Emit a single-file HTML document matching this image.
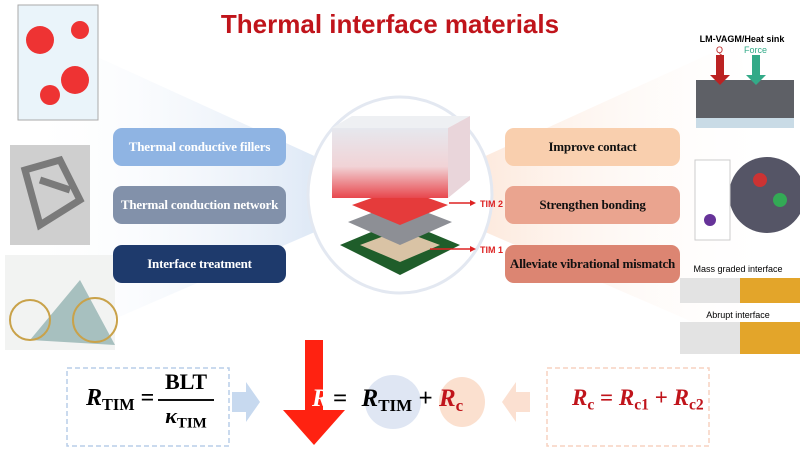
<!DOCTYPE html>
<html><head><style>
body{margin:0;width:800px;height:450px;overflow:hidden;background:#fff;font-family:"Liberation Serif",serif;position:relative}
.a{position:absolute}
.box{position:absolute;border-radius:9px;color:#fff;font-weight:bold;font-size:13px;display:flex;align-items:center;justify-content:center;text-align:center;white-space:nowrap;letter-spacing:-0.2px}
.rb{color:#111}
sub{font-size:0.68em;vertical-align:-0.3em;font-style:normal}
</style></head><body>
<svg class="a" style="left:0;top:0" width="800" height="450">
<defs>
<linearGradient id="bl" x1="1" y1="0" x2="0" y2="0"><stop offset="0" stop-color="#c9daf0"/><stop offset="1" stop-color="#fff" stop-opacity="0"/></linearGradient>
<linearGradient id="pk" x1="0" y1="0" x2="1" y2="0"><stop offset="0" stop-color="#fbdcc8"/><stop offset="1" stop-color="#fff" stop-opacity="0"/></linearGradient>
<linearGradient id="hs" x1="0" y1="0" x2="0" y2="1"><stop offset="0" stop-color="#e6e8ee"/><stop offset="0.55" stop-color="#f1d3d6"/><stop offset="1" stop-color="#e8474d"/></linearGradient>
</defs>
<polygon points="400,195 60,40 20,360 400,195" fill="url(#bl)"/>
<polygon points="400,195 740,40 780,360 400,195" fill="url(#pk)"/>
<ellipse cx="400" cy="195" rx="92" ry="98" fill="#fff" stroke="#e3e8f1" stroke-width="3"/>
<polygon points="340,245 400,220 460,245 400,275" fill="#1f5d2a"/>
<polygon points="360,245 400,230 440,245 400,262" fill="#d9c3a5"/>
<polygon points="348,222 400,202 452,222 400,245" fill="#8d8f95"/>
<polygon points="352,205 400,188 448,205 400,225" fill="#e53b3b"/>
<rect x="332" y="128" width="116" height="70" fill="url(#hs)"/>
<polygon points="332,128 352,116 470,116 448,128" fill="#eef0f3"/>
<polygon points="448,128 470,116 470,180 448,198" fill="#e9d5da"/>
<line x1="449" y1="203" x2="470" y2="203" stroke="#d22" stroke-width="1.5"/>
<polygon points="470,200 476,203 470,206" fill="#d22"/>
<text x="480" y="207" font-family="Liberation Sans" font-size="9" font-weight="bold" fill="#d22">TIM 2</text>
<line x1="430" y1="249" x2="470" y2="249" stroke="#d22" stroke-width="1.5"/>
<polygon points="470,246 476,249 470,252" fill="#d22"/>
<text x="480" y="253" font-family="Liberation Sans" font-size="9" font-weight="bold" fill="#d22">TIM 1</text>
<rect x="18" y="5" width="80" height="115" fill="#eaf4fa" stroke="#aaa"/>
<circle cx="40" cy="40" r="14" fill="#e33"/><circle cx="75" cy="80" r="14" fill="#e33"/><circle cx="50" cy="95" r="10" fill="#e33"/><circle cx="80" cy="30" r="9" fill="#e33"/>
<rect x="10" y="145" width="80" height="100" fill="#cfcfcf"/>
<path d="M25 170 L60 160 L80 200 L40 225 Z M40 180 L70 190" stroke="#7a7a7a" stroke-width="7" fill="none"/>
<rect x="5" y="255" width="110" height="95" fill="#f2f3f2"/>
<polygon points="30,340 80,280 115,345" fill="#8aa" opacity=".7"/>
<circle cx="30" cy="320" r="20" fill="none" stroke="#c9a24a" stroke-width="2"/>
<circle cx="95" cy="320" r="22" fill="none" stroke="#c9a24a" stroke-width="2"/>
<rect x="696" y="80" width="98" height="45" fill="#5e6066"/>
<rect x="696" y="118" width="98" height="10" fill="#c9dbe6"/>
<rect x="716" y="55" width="8" height="20" fill="#b22"/><polygon points="710,75 730,75 720,85" fill="#b22"/>
<rect x="752" y="55" width="8" height="20" fill="#3a8"/><polygon points="746,75 766,75 756,85" fill="#3a8"/>
<text x="742" y="42" text-anchor="middle" font-family="Liberation Sans" font-size="9" font-weight="bold">LM-VAGM/Heat sink</text>
<text x="716" y="53" font-family="Liberation Sans" font-size="9" fill="#b22">Q</text>
<text x="744" y="53" font-family="Liberation Sans" font-size="9" fill="#3a8">Force</text>
<circle cx="767" cy="195" r="38" fill="#556"/>
<circle cx="760" cy="180" r="7" fill="#c33"/><circle cx="780" cy="200" r="7" fill="#3a5"/>
<rect x="695" y="160" width="35" height="80" fill="#fff" stroke="#ccc"/>
<circle cx="710" cy="220" r="6" fill="#639"/>
<text x="738" y="272" text-anchor="middle" font-family="Liberation Sans" font-size="9">Mass graded interface</text>
<rect x="680" y="278" width="120" height="25" fill="#e3e3e3"/><rect x="740" y="278" width="60" height="25" fill="#e3a52a"/>
<text x="738" y="318" text-anchor="middle" font-family="Liberation Sans" font-size="9">Abrupt interface</text>
<rect x="680" y="322" width="120" height="32" fill="#e3e3e3"/><rect x="740" y="322" width="60" height="32" fill="#e3a52a"/>
<rect x="67" y="368" width="162" height="78" fill="#fff" stroke="#b8cde9" stroke-dasharray="5,3" stroke-width="1.5"/>
<rect x="547" y="368" width="162" height="78" fill="#fff" stroke="#f7d2c0" stroke-dasharray="5,3" stroke-width="1.5"/>
<polygon points="232,392 246,392 246,382 260,402 246,422 246,412 232,412" fill="#c7d9ef"/>
<polygon points="530,392 516,392 516,382 502,402 516,422 516,412 530,412" fill="#fbe0d1"/>
<ellipse cx="393" cy="402" rx="28" ry="27" fill="#dfe6f3"/>
<ellipse cx="462" cy="402" rx="23" ry="25" fill="#fbe0cf"/>
<polygon points="305,340 323,340 323,410 345,410 314,445 283,410 305,410" fill="#f21"/>
</svg>
<div class="a" style="left:0;width:780px;top:9px;text-align:center;font-family:'Liberation Sans',sans-serif;font-weight:bold;font-size:26px;color:#c0141b">Thermal interface materials</div>
<div class="box" style="left:113px;top:128px;width:173px;height:38px;background:#8fb4e3">Thermal conductive fillers</div>
<div class="box" style="left:113px;top:186px;width:173px;height:38px;background:#8291aa">Thermal conduction network</div>
<div class="box" style="left:113px;top:245px;width:173px;height:38px;background:#1e3a6c">Interface treatment</div>
<div class="box rb" style="left:505px;top:128px;width:175px;height:38px;background:#f9cfae">Improve contact</div>
<div class="box rb" style="left:505px;top:186px;width:175px;height:38px;background:#eaa48f">Strengthen bonding</div>
<div class="box rb" style="left:505px;top:245px;width:175px;height:38px;background:#dc8572">Alleviate vibrational mismatch</div>
<div class="a" style="left:86px;top:385px;font-size:24px;font-weight:bold"><i>R</i><sub>TIM</sub> =</div>
<div class="a" style="left:158px;top:368px;width:56px;text-align:center;font-size:22px;font-weight:bold;line-height:28px">BLT<div style="border-top:2px solid #111;margin:3px 0 1px"></div><i>κ</i><sub>TIM</sub></div>
<div class="a" style="left:312px;top:385px;font-size:25px;font-weight:bold;color:#fff"><i>R</i></div>
<div class="a" style="left:333px;top:385px;font-size:25px;font-weight:bold">= <span style="margin-left:8px"><i>R</i><sub>TIM</sub></span> + <span style="color:#c0141b"><i>R</i><sub>c</sub></span></div>
<div class="a" style="left:572px;top:385px;font-size:23px;font-weight:bold;color:#c0141b"><i>R</i><sub>c</sub> = <i>R</i><sub>c1</sub> + <i>R</i><sub>c2</sub></div>
</body></html>
